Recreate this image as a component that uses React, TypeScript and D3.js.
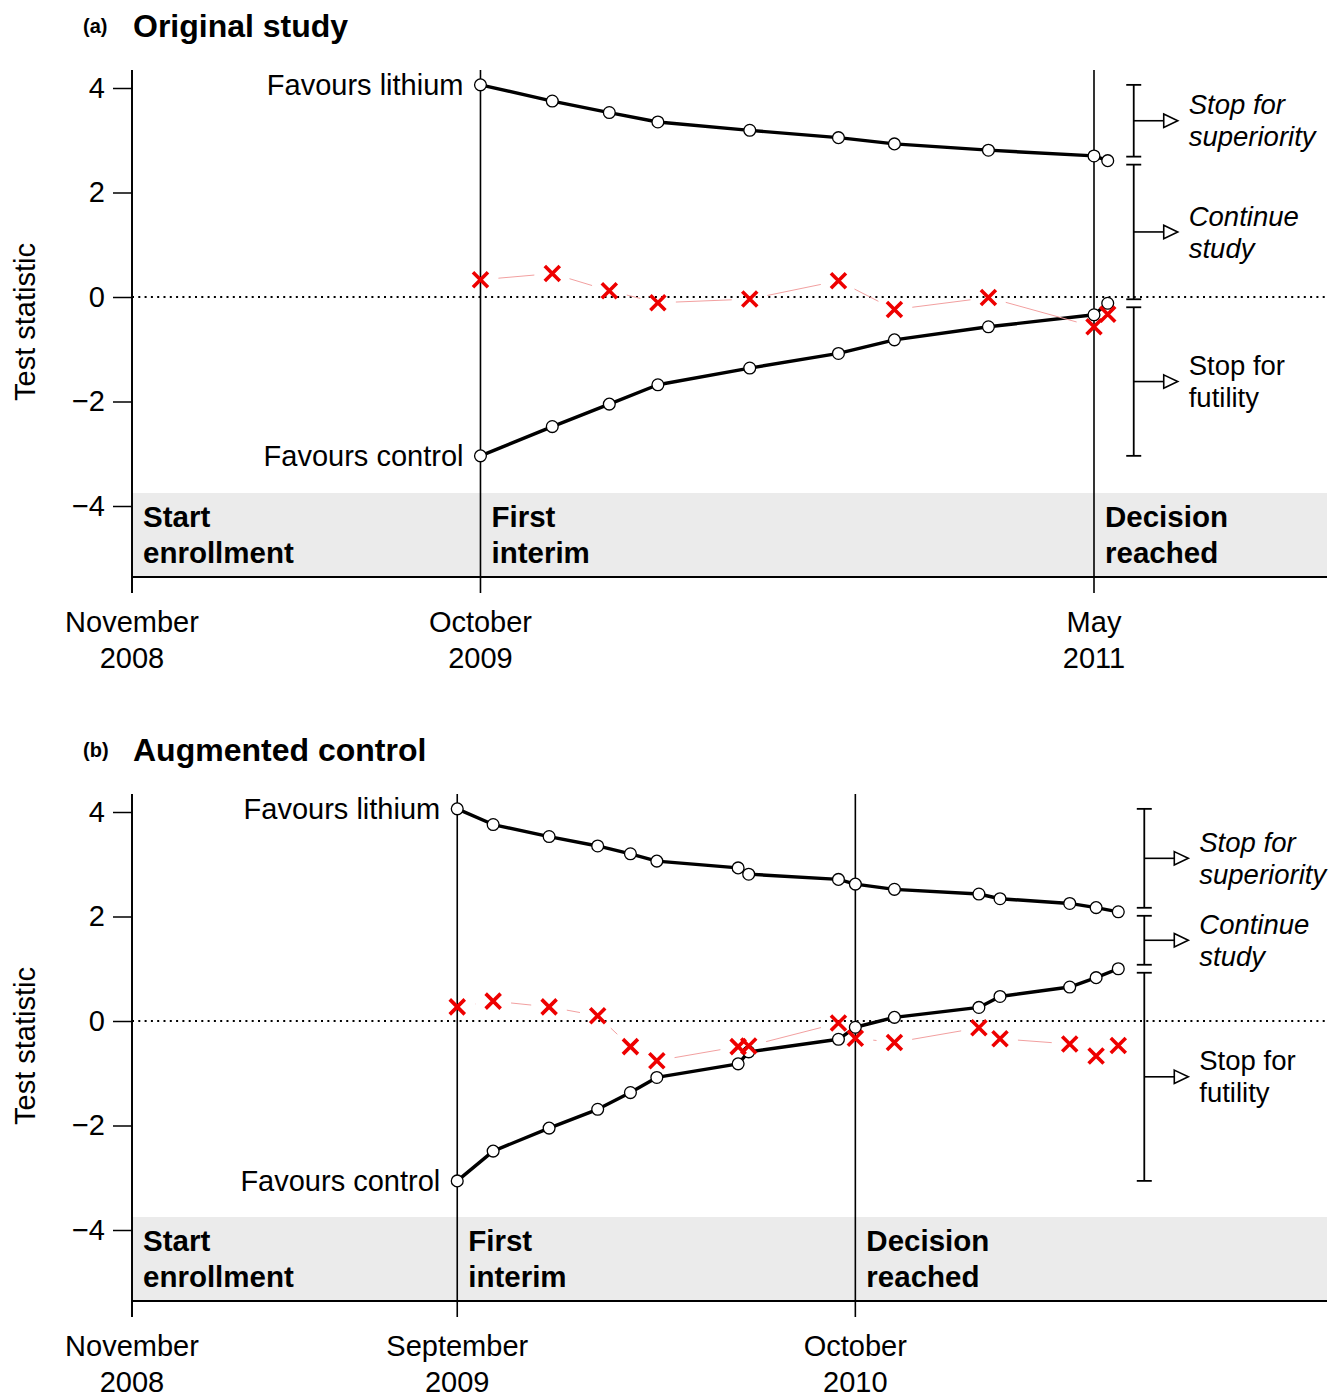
import { useEffect, useRef } from "react";
import * as d3 from "d3";

// ---------------------------------------------------------------------------
// Data
// ---------------------------------------------------------------------------

const START = "2008-11-15";

// (a) Original study: interim analysis dates, boundaries and test statistic
const datesA = [
  "2009-10-11", "2009-12-18", "2010-02-10", "2010-03-28", "2010-06-23",
  "2010-09-15", "2010-11-07", "2011-02-04", "2011-05-15", "2011-05-28",
];
const upperA = [4.06, 3.75, 3.53, 3.35, 3.19, 3.05, 2.93, 2.81, 2.7, 2.61];
const lowerA = [-3.04, -2.48, -2.05, -1.68, -1.36, -1.08, -0.82, -0.57, -0.34, -0.12];
const statA = [0.33, 0.45, 0.12, -0.11, -0.04, 0.31, -0.24, -0.01, -0.57, -0.33];
const eventsA = [START, "2009-10-11", "2011-05-15"];

// (b) Augmented control
const datesB = [
  "2009-09-19", "2009-10-23", "2009-12-15", "2010-01-30", "2010-03-02",
  "2010-03-27", "2010-06-12", "2010-06-22", "2010-09-15", "2010-10-01",
  "2010-11-07", "2011-01-26", "2011-02-15", "2011-04-22", "2011-05-17",
  "2011-06-07",
];
const upperB = [4.06, 3.76, 3.53, 3.35, 3.2, 3.06, 2.93, 2.81, 2.71, 2.62, 2.52, 2.43, 2.34, 2.25, 2.17, 2.09];
const lowerB = [-3.06, -2.49, -2.05, -1.69, -1.37, -1.08, -0.82, -0.59, -0.35, -0.12, 0.07, 0.26, 0.47, 0.65, 0.83, 1.0];
const statB = [0.27, 0.38, 0.27, 0.1, -0.49, -0.76, -0.49, -0.48, -0.04, -0.33, -0.41, -0.13, -0.34, -0.44, -0.67, -0.47];
const eventsB = [START, "2009-09-19", "2010-10-01"];

const EVENT_LABELS = [
  ["Start", "enrollment"],
  ["First", "interim"],
  ["Decision", "reached"],
];
const OUTCOME_LABELS = [
  ["Stop for", "superiority"],
  ["Continue", "study"],
  ["Stop for", "futility"],
];
const Y_TICKS = [-4, -2, 0, 2, 4];

// ---------------------------------------------------------------------------

const FONT = "'Liberation Sans', Arial, Helvetica, sans-serif";
const parse = d3.timeParse("%Y-%m-%d");
const fmtMonth = d3.timeFormat("%B");
const fmtYear = d3.timeFormat("%Y");

type PanelOpts = {
  top: number;
  tag: string;
  title: string;
  dates: string[];
  upper: number[];
  lower: number[];
  stat: number[];
  events: string[];
};

function drawPanel(
  svg: d3.Selection<SVGSVGElement, unknown, null, undefined>,
  x: d3.ScaleTime<number, number>,
  o: PanelOpts
) {
  const g = svg.append("g").attr("transform", `translate(0,${o.top})`);
  const y = d3.scaleLinear().domain([-4, 4]).range([506, 88]);

  const left = 132;
  const right = 1327;
  const axisTop = 70;
  const axisBottom = 593;
  const boxTop = 493;
  const boxBottom = 577;

  const dates = o.dates.map((d) => parse(d)!);
  const events = o.events.map((d) => parse(d)!);

  // ---- Titles ----
  g.append("text")
    .attr("x", 83)
    .attr("y", 33)
    .attr("font-size", 20)
    .attr("font-weight", "bold")
    .text(o.tag);
  g.append("text")
    .attr("x", 133)
    .attr("y", 37)
    .attr("font-size", 32)
    .attr("font-weight", "bold")
    .text(o.title);

  // ---- Grey event band ----
  g.append("rect")
    .attr("x", left)
    .attr("y", boxTop)
    .attr("width", right - left)
    .attr("height", boxBottom - boxTop)
    .attr("fill", "#ebebeb");
  g.append("line")
    .attr("x1", left)
    .attr("x2", right)
    .attr("y1", boxBottom)
    .attr("y2", boxBottom)
    .attr("stroke", "#000")
    .attr("stroke-width", 2);

  // ---- Zero reference ----
  g.append("line")
    .attr("x1", left)
    .attr("x2", right)
    .attr("y1", y(0))
    .attr("y2", y(0))
    .attr("stroke", "#000")
    .attr("stroke-width", 2)
    .attr("stroke-dasharray", "2 4.3");

  // ---- Y axis ----
  const yAxis = d3
    .axisLeft(y)
    .tickValues(Y_TICKS)
    .tickSize(19)
    .tickPadding(8)
    .tickFormat(d3.format("d") as any);
  const ax = g.append("g").attr("transform", `translate(${left},0)`).call(yAxis);
  ax.select(".domain").remove();
  ax.selectAll("line").attr("stroke-width", 1.5);
  ax.selectAll("text")
    .attr("font-size", 29)
    .attr("font-family", FONT)
    .attr("fill", "#000");
  g.append("line")
    .attr("x1", left)
    .attr("x2", left)
    .attr("y1", axisTop)
    .attr("y2", axisBottom)
    .attr("stroke", "#000")
    .attr("stroke-width", 1.8);

  g.append("text")
    .attr("transform", `translate(25,322) rotate(-90)`)
    .attr("text-anchor", "middle")
    .attr("dy", "0.35em")
    .attr("font-size", 29)
    .text("Test statistic");

  // ---- Event lines + labels ----
  events.forEach((ev, i) => {
    const ex = x(ev);
    g.append("line")
      .attr("x1", ex)
      .attr("x2", ex)
      .attr("y1", axisTop)
      .attr("y2", axisBottom)
      .attr("stroke", "#000")
      .attr("stroke-width", 1.6);
    EVENT_LABELS[i].forEach((txt, j) => {
      g.append("text")
        .attr("x", ex + 11)
        .attr("y", 517 + j * 36)
        .attr("dy", "0.35em")
        .attr("font-size", 29.5)
        .attr("font-weight", "bold")
        .text(txt);
    });
    [fmtMonth(ev), fmtYear(ev)].forEach((txt, j) => {
      g.append("text")
        .attr("x", ex)
        .attr("y", 622 + j * 36)
        .attr("dy", "0.35em")
        .attr("text-anchor", "middle")
        .attr("font-size", 29)
        .text(txt);
    });
  });

  // ---- Boundaries ----
  const line = d3
    .line<number>()
    .x((_d, i) => x(dates[i]))
    .y((d) => y(d));

  [o.upper, o.lower].forEach((vals) => {
    g.append("path")
      .attr("d", line(vals)!)
      .attr("fill", "none")
      .attr("stroke", "#000")
      .attr("stroke-width", 3.4)
      .attr("stroke-linejoin", "round");
  });
  [o.upper, o.lower].forEach((vals) => {
    g.selectAll(null)
      .data(vals)
      .join("circle")
      .attr("cx", (_d, i) => x(dates[i]))
      .attr("cy", (d) => y(d))
      .attr("r", 5.9)
      .attr("fill", "#fff")
      .attr("stroke", "#000")
      .attr("stroke-width", 1.3);
  });

  const x0 = x(dates[0]);
  g.append("text")
    .attr("x", x0 - 17)
    .attr("y", y(o.upper[0]))
    .attr("dy", "0.35em")
    .attr("text-anchor", "end")
    .attr("font-size", 29)
    .text("Favours lithium");
  g.append("text")
    .attr("x", x0 - 17)
    .attr("y", y(o.lower[0]))
    .attr("dy", "0.35em")
    .attr("text-anchor", "end")
    .attr("font-size", 29)
    .text("Favours control");

  // ---- Test statistic: broken connecting line + crosses ----
  const pts = o.stat.map((v, i) => [x(dates[i]), y(v)] as [number, number]);
  const gap = 18;
  for (let i = 0; i < pts.length - 1; i++) {
    const [ax0, ay0] = pts[i];
    const [ax1, ay1] = pts[i + 1];
    const len = Math.hypot(ax1 - ax0, ay1 - ay0);
    if (len <= gap * 2) continue;
    const ux = (ax1 - ax0) / len;
    const uy = (ay1 - ay0) / len;
    g.append("line")
      .attr("x1", ax0 + ux * gap)
      .attr("y1", ay0 + uy * gap)
      .attr("x2", ax1 - ux * gap)
      .attr("y2", ay1 - uy * gap)
      .attr("stroke", "#f2a0a0")
      .attr("stroke-width", 1);
  }
  g.selectAll(null)
    .data(pts)
    .join("path")
    .attr("transform", (d) => `translate(${d[0]},${d[1]})`)
    .attr("d", "M-7.5,-7.5L7.5,7.5M-7.5,7.5L7.5,-7.5")
    .attr("stroke", "#ee0000")
    .attr("stroke-width", 3.6)
    .attr("fill", "none");

  // ---- Decision brackets ----
  const last = dates.length - 1;
  const bx = x(dates[last]) + 26;
  const half = 4;
  const ranges: [number, number][] = [
    [y(o.upper[0]), y(o.upper[last]) - half],
    [y(o.upper[last]) + half, y(o.lower[last]) - half],
    [y(o.lower[last]) + half, y(o.lower[0])],
  ];
  ranges.forEach(([y0, y1], i) => {
    g.append("line")
      .attr("x1", bx)
      .attr("x2", bx)
      .attr("y1", y0)
      .attr("y2", y1)
      .attr("stroke", "#000")
      .attr("stroke-width", 1.8);
    [y0, y1].forEach((yy) => {
      g.append("line")
        .attr("x1", bx - 7.5)
        .attr("x2", bx + 7.5)
        .attr("y1", yy)
        .attr("y2", yy)
        .attr("stroke", "#000")
        .attr("stroke-width", 1.8);
    });
    const my = (y0 + y1) / 2;
    g.append("line")
      .attr("x1", bx)
      .attr("x2", bx + 30)
      .attr("y1", my)
      .attr("y2", my)
      .attr("stroke", "#000")
      .attr("stroke-width", 1.6);
    g.append("path")
      .attr("d", `M${bx + 30},${my - 6.7}L${bx + 44},${my}L${bx + 30},${my + 6.7}Z`)
      .attr("fill", "#fff")
      .attr("stroke", "#000")
      .attr("stroke-width", 1.6);
    OUTCOME_LABELS[i].forEach((txt, j) => {
      g.append("text")
        .attr("x", bx + 55)
        .attr("y", my - 16 + j * 32)
        .attr("dy", "0.35em")
        .attr("font-size", 27.5)
        .attr("font-style", i < 2 ? "italic" : "normal")
        .text(txt);
    });
  });
}

export default function App() {
  const svgRef = useRef<SVGSVGElement>(null);

  useEffect(() => {
    const svg = d3.select(svgRef.current!);
    svg.selectAll("*").remove();

    const x = d3
      .scaleTime()
      .domain([parse(START)!, parse("2011-05-15")!])
      .range([132, 1094]);

    drawPanel(svg, x, {
      top: 0,
      tag: "(a)",
      title: "Original study",
      dates: datesA,
      upper: upperA,
      lower: lowerA,
      stat: statA,
      events: eventsA,
    });
    drawPanel(svg, x, {
      top: 724,
      tag: "(b)",
      title: "Augmented control",
      dates: datesB,
      upper: upperB,
      lower: lowerB,
      stat: statB,
      events: eventsB,
    });
  }, []);

  return (
    <svg
      ref={svgRef}
      width={1330}
      height={1397}
      fontFamily={FONT}
      style={{ position: "absolute", left: 0, top: 0, background: "#fff" }}
    />
  );
}
